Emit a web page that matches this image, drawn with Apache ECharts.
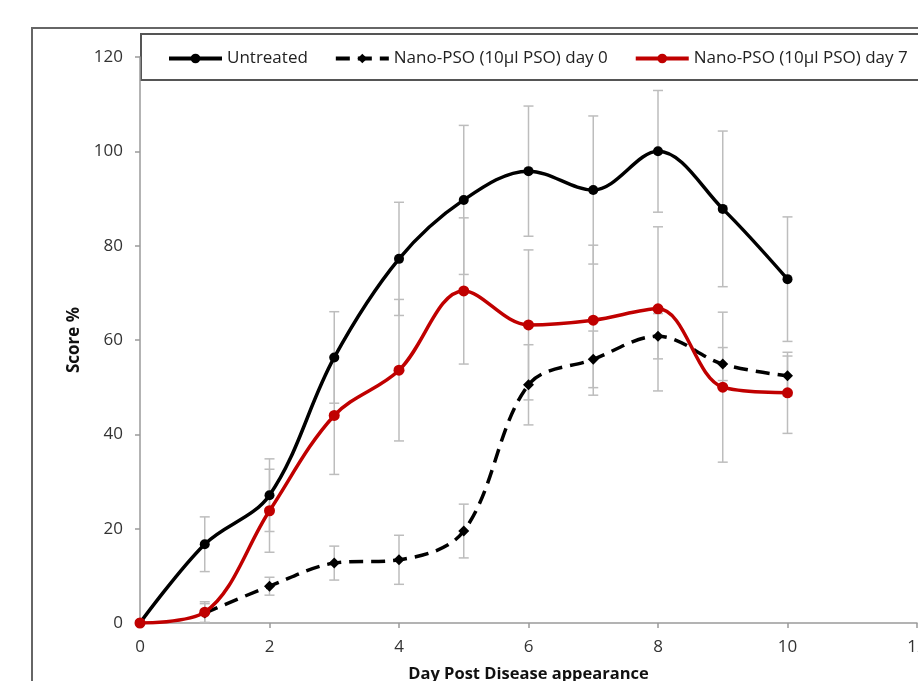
<!DOCTYPE html>
<html>
<head>
<meta charset="utf-8">
<script src="https://cdn.jsdelivr.net/npm/echarts@6/dist/echarts.min.js"></script>
<style>html,body{margin:0;padding:0;background:#fff}#c{width:918px;height:681px}</style>
</head>
<body>
<div id="c"></div>
<script>
var days = [0,1,2,3,4,5,6,7,8,9,10];
var seriesNames = ['Untreated','Nano-PSO (10µl PSO) day 0','Nano-PSO (10µl PSO) day 7'];
var untreated = [0,16.7,27.1,56.3,77.2,89.7,95.8,91.8,100,87.8,72.9];
var untreatedErr = [0,5.8,7.7,9.7,12,15.8,13.8,15.7,12.9,16.5,13.2];
var day0 = [null,2.1,7.8,12.7,13.4,19.5,50.5,55.9,60.8,54.9,52.4];
var day0Err = [null,2.0,1.9,3.6,5.2,5.7,8.5,6,4.8,3.5,4.2];
var day7 = [0,2.3,23.8,44,53.6,70.4,63.2,64.2,66.6,50,48.8];
var day7Err = [0,2.2,8.8,12.5,15,15.5,15.9,15.9,17.4,15.9,8.6];
var xTicks = [0,2,4,6,8,10,12];
var yTicks = [0,20,40,60,80,100,120];

function pts(vals){ return days.map(function(d,i){ return [d, vals[i]]; }); }
function errPts(vals, errs){
  var out = [];
  days.forEach(function(d,i){ if(vals[i]!=null && errs[i]) out.push([d, vals[i]-errs[i], vals[i]+errs[i]]); });
  return out;
}
function errSeries(vals, errs){
  return {
    type:'custom', silent:true, z:1, legendHoverLink:false,
    data: errPts(vals, errs),
    renderItem: function(params, api){
      var lo = api.coord([api.value(0), api.value(1)]);
      var hi = api.coord([api.value(0), api.value(2)]);
      var w = 5;
      var st = {stroke:'#bdbdbd', lineWidth:1.5};
      return {type:'group', children:[
        {type:'line', shape:{x1:lo[0],y1:lo[1],x2:hi[0],y2:hi[1]}, style:st},
        {type:'line', shape:{x1:lo[0]-w,y1:lo[1],x2:lo[0]+w,y2:lo[1]}, style:st},
        {type:'line', shape:{x1:hi[0]-w,y1:hi[1],x2:hi[0]+w,y2:hi[1]}, style:st}
      ]};
    }
  };
}
var FONT = '"Open Sans", sans-serif';
var chart = echarts.init(document.getElementById('c'), null, {renderer:'canvas'});
chart.setOption({
  animation:false,
  backgroundColor:'#fff',
  graphic:[
    {type:'rect', shape:{x:32,y:28,width:1000,height:800}, style:{fill:'none', stroke:'#666', lineWidth:2}, z:-10},
    {type:'rect', shape:{x:141,y:34,width:900,height:46}, style:{fill:'#fff', stroke:'#555', lineWidth:2}, z:-5}
  ],
  grid:{left:140, right:1, top:57, bottom:58, containLabel:false, outerBoundsMode:'none'},
  legend:{
    left:162, top:45, itemWidth:53, itemHeight:12, itemGap:26,
    data: seriesNames,
    lineStyle:{width:4},
    textStyle:{fontFamily:FONT, fontSize:17, color:'#222'}
  },
  xAxis:{
    type:'value', min:0, max:12, interval:2,
    name:'Day Post Disease appearance', nameLocation:'middle', nameGap:43,
    nameTextStyle:{fontFamily:FONT, fontSize:16.5, fontWeight:'bold', color:'#111'},
    axisLine:{lineStyle:{color:'#9a9a9a', width:1.5}},
    axisTick:{show:true, length:5, lineStyle:{color:'#9a9a9a', width:1.5}},
    axisLabel:{fontFamily:FONT, fontSize:17, color:'#333', margin:16},
    splitLine:{show:false}
  },
  yAxis:{
    type:'value', min:0, max:120, interval:20,
    name:'Score %', nameLocation:'middle', nameGap:48, nameRotate:90,
    nameTextStyle:{fontFamily:FONT, fontSize:17, fontWeight:'bold', color:'#111'},
    axisLine:{show:true, lineStyle:{color:'#9a9a9a', width:1.5}},
    axisTick:{show:true, length:5, lineStyle:{color:'#9a9a9a', width:1.5}},
    axisLabel:{fontFamily:FONT, fontSize:17, color:'#333', margin:17},
    splitLine:{show:false}
  },
  series:[
    errSeries(untreated, untreatedErr),
    errSeries(day0, day0Err),
    errSeries(day7, day7Err),
    {name:seriesNames[0], type:'line', data:pts(untreated), smooth:0.35, z:5,
     symbol:'circle', symbolSize:10, itemStyle:{color:'#000'}, lineStyle:{color:'#000', width:3.5}},
    {name:seriesNames[1], type:'line', data:pts(day0), smooth:0.35, z:4, connectNulls:false,
     symbol:'diamond', symbolSize:11, itemStyle:{color:'#000'}, lineStyle:{color:'#000', width:3.5, type:[14,8]}},
    {name:seriesNames[2], type:'line', data:pts(day7), smooth:0.35, z:6,
     symbol:'circle', symbolSize:11, itemStyle:{color:'#c00000'}, lineStyle:{color:'#c00000', width:3.5}}
  ]
});
</script>
</body>
</html>
